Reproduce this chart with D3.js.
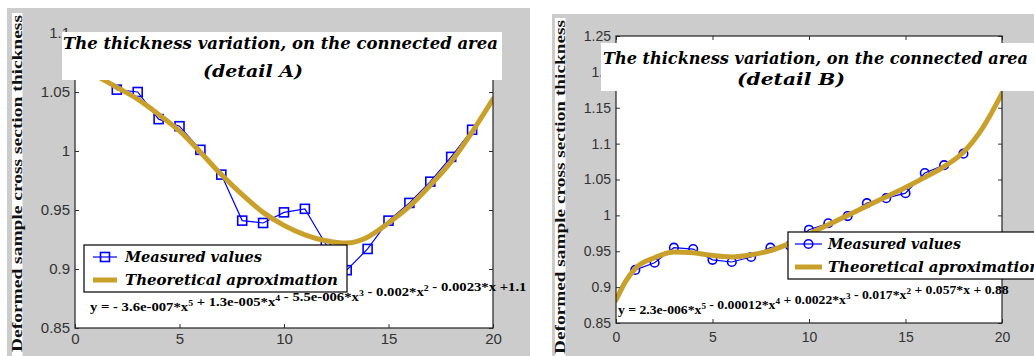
<!DOCTYPE html>
<html><head><meta charset="utf-8">
<script src="https://cdn.jsdelivr.net/npm/d3@7"></script>
<style>body{margin:0;background:#fff}svg{display:block}</style>
</head><body>
<svg id="c" width="1034" height="356"></svg>
<script>
// ---------- data ----------
const xTicks = [0, 5, 10, 15, 20];
const xTickLabels = ["0", "5", "10", "15", "20"];
const yTicksA = [0.85, 0.9, 0.95, 1, 1.05, 1.1];
const yTickLabelsA = ["0.85", "0.9", "0.95", "1", "1.05", "1.1"];
const yTicksB = [0.85, 0.9, 0.95, 1, 1.05, 1.1, 1.15, 1.2, 1.25];
const yTickLabelsB = ["0.85", "0.9", "0.95", "1", "1.05", "1.1", "1.15", "1.2", "1.25"];

const measuredXA = [1, 2, 3, 4, 5, 6, 7, 8, 9, 10, 11, 12, 13, 14, 15, 16, 17, 18, 19];
const measuredYA = [1.068, 1.052, 1.050, 1.027, 1.021, 1.001, 0.980, 0.941, 0.939, 0.948, 0.951, 0.921, 0.899, 0.917, 0.941, 0.956, 0.974, 0.995, 1.018];
const fitXA = [1, 2, 3, 4, 5, 6, 7, 8, 9, 10, 11, 12, 13, 14, 15, 16, 17, 18, 19, 20];
const fitYA = [1.064, 1.054, 1.044, 1.031, 1.017, 0.999, 0.980, 0.963, 0.948, 0.937, 0.929, 0.924, 0.922, 0.927, 0.939, 0.953, 0.971, 0.991, 1.016, 1.044];

const measuredXB = [1, 2, 3, 4, 5, 6, 7, 8, 9, 10, 11, 12, 13, 14, 15, 16, 17, 18];
const measuredYB = [0.924, 0.934, 0.955, 0.953, 0.938, 0.935, 0.942, 0.955, 0.958, 0.980, 0.989, 0.999, 1.017, 1.024, 1.031, 1.059, 1.070, 1.086];
const fitXB = [0, 0.5, 1, 2, 3, 4, 5, 6, 7, 8, 9, 10, 11, 12, 13, 14, 15, 16, 17, 18, 19, 20];
const fitYB = [0.882, 0.908, 0.926, 0.941, 0.949, 0.948, 0.944, 0.942, 0.945, 0.951, 0.961, 0.974, 0.987, 1.000, 1.013, 1.026, 1.039, 1.053, 1.068, 1.088, 1.122, 1.170];

const titleLine1 = "The thickness variation, on the connected area";
const titleLine2A = "(detail  A)";
const titleLine2B = "(detail  B)";
const yLabel = "Deformed sample cross section thickness";
const legendLabels = ["Measured values", "Theoretical aproximation"];
const equationA = [["y = - 3.6e-007*x", "5"], [" + 1.3e-005*x", "4"], [" - 5.5e-006*x", "3"], [" - 0.002*x", "2"], [" - 0.0023*x +1.1", null]];
const equationB = [["y = 2.3e-006*x", "5"], [" - 0.00012*x", "4"], [" + 0.0022*x", "3"], [" - 0.017*x", "2"], [" + 0.057*x + 0.88", null]];

// ---------- drawing ----------
const svg = d3.select("#c");
const GOLD = "#c9a02a", BLUE = "#0000ff", GRAY = "#cccccc";
const serif = "'DejaVu Serif', 'Liberation Serif', serif";
const tserif = "'Liberation Serif', 'DejaVu Serif', serif";

function fitWidth(sel, w) {
  const n = sel.node(); const bb = n.getBBox();
  const sx = w / bb.width;
  sel.attr("transform", `translate(${bb.x},0) scale(${sx},1) translate(${-bb.x},0)`);
}

function panel(cfg) {
  const g = svg.append("g");
  g.append("rect").attr("x", cfg.bg[0]).attr("y", cfg.bg[1]).attr("width", cfg.bg[2]).attr("height", cfg.bg[3]).attr("fill", GRAY);
  // y label strip
  g.append("rect").attr("x", cfg.yl.x - 5).attr("y", cfg.yl.top).attr("width", 10.5).attr("height", 356 - cfg.yl.top).attr("fill", "#fff");
  g.append("text").attr("transform", `translate(${cfg.yl.x + 4.5},${cfg.yl.bottom}) rotate(-90)`)
    .attr("font-family", tserif).attr("font-size", 14).attr("font-weight", "bold")
    .attr("textLength", cfg.yl.bottom - cfg.yl.top - 2).attr("lengthAdjust", "spacingAndGlyphs")
    .attr("fill", "#111").text(yLabel);

  const x = d3.scaleLinear().domain([0, 20]).range(cfg.xr);
  const y = d3.scaleLinear().domain(cfg.yd).range(cfg.yr);
  const [x0, x1] = cfg.xr, [y0, y1] = cfg.yr;
  g.append("rect").attr("x", x0).attr("y", y1).attr("width", x1 - x0).attr("height", y0 - y1).attr("fill", "#fff");

  const clip = "clip" + cfg.id;
  g.append("clipPath").attr("id", clip).append("rect").attr("x", x0).attr("y", y1).attr("width", x1 - x0).attr("height", y0 - y1);
  const pg = g.append("g").attr("clip-path", `url(#${clip})`);

  const meas = cfg.mx.map((d, i) => [d, cfg.my[i]]);
  const fit = cfg.fx.map((d, i) => [d, cfg.fy[i]]);
  pg.append("path").datum(meas).attr("fill", "none").attr("stroke", BLUE).attr("stroke-width", 1.2)
    .attr("d", d3.line().x(d => x(d[0])).y(d => y(d[1])));
  if (cfg.marker === "square") {
    pg.selectAll(".m").data(meas).join("rect").attr("x", d => x(d[0]) - 4.5).attr("y", d => y(d[1]) - 4.5)
      .attr("width", 9).attr("height", 9).attr("fill", "none").attr("stroke", BLUE).attr("stroke-width", 1.6);
  } else {
    pg.selectAll(".m").data(meas).join("circle").attr("cx", d => x(d[0])).attr("cy", d => y(d[1])).attr("r", 4.3)
      .attr("fill", "none").attr("stroke", BLUE).attr("stroke-width", 1.6);
  }
  pg.append("path").datum(fit).attr("fill", "none").attr("stroke", GOLD).attr("stroke-width", 5).attr("stroke-linecap", "round")
    .attr("d", d3.line().curve(d3.curveMonotoneX).x(d => x(d[0])).y(d => y(d[1])));

  // axes
  const axL = g.append("g").attr("transform", `translate(${x0},0)`)
    .call(d3.axisLeft(y).tickValues(cfg.yt).tickFormat((d, i) => cfg.ytl[i]).tickSizeInner(-4).tickSizeOuter(0).tickPadding(5));
  const axB = g.append("g").attr("transform", `translate(0,${y0})`)
    .call(d3.axisBottom(x).tickValues(xTicks).tickFormat((d, i) => xTickLabels[i]).tickSizeInner(-4).tickSizeOuter(0).tickPadding(cfg.xpad));
  const axR = g.append("g").attr("transform", `translate(${x1},0)`)
    .call(d3.axisRight(y).tickValues(cfg.yt).tickFormat("").tickSizeInner(-4).tickSizeOuter(0));
  const axT = g.append("g").attr("transform", `translate(0,${y1})`)
    .call(d3.axisTop(x).tickValues(xTicks).tickFormat("").tickSizeInner(-4).tickSizeOuter(0));
  [axL, axB, axR, axT].forEach(a => {
    a.select(".domain").remove();
    a.selectAll("line").attr("stroke", "#333");
    a.selectAll("text").attr("font-family", "'Liberation Sans', Arial, sans-serif").attr("font-size", cfg.fs).attr("fill", "#333");
  });
  g.append("rect").attr("x", x0).attr("y", y1).attr("width", x1 - x0).attr("height", y0 - y1)
    .attr("fill", "none").attr("stroke", "#222").attr("stroke-width", 1.2);

  // title
  const t = cfg.title;
  g.append("rect").attr("x", t.box[0]).attr("y", t.box[1]).attr("width", t.box[2]).attr("height", t.box[3]).attr("fill", "#fff");
  g.append("text").attr("x", t.l1[0]).attr("y", t.l1[1]).attr("font-family", serif).attr("font-weight", "bold").attr("font-style", "italic")
    .attr("font-size", 16).attr("textLength", t.l1[2]).attr("lengthAdjust", "spacingAndGlyphs").attr("fill", "#000").text(titleLine1);
  g.append("text").attr("x", t.l2[0]).attr("y", t.l2[1]).attr("font-family", serif).attr("font-weight", "bold").attr("font-style", "italic")
    .attr("font-size", 16).attr("textLength", t.l2[2]).attr("lengthAdjust", "spacingAndGlyphs").attr("fill", "#000").text(cfg.line2);

  // legend
  const L = cfg.leg;
  g.append("rect").attr("x", L.box[0]).attr("y", L.box[1]).attr("width", L.box[2]).attr("height", L.box[3])
    .attr("fill", "#fff").attr("stroke", "#000").attr("stroke-width", 1.2);
  const ly1 = L.rows[0], ly2 = L.rows[1];
  g.append("line").attr("x1", L.lx[0]).attr("x2", L.lx[1]).attr("y1", ly1).attr("y2", ly1).attr("stroke", BLUE).attr("stroke-width", 1.2);
  const mx = (L.lx[0] + L.lx[1]) / 2;
  if (cfg.marker === "square") {
    g.append("rect").attr("x", mx - 4.5).attr("y", ly1 - 4.5).attr("width", 9).attr("height", 9).attr("fill", "none").attr("stroke", BLUE).attr("stroke-width", 1.6);
  } else {
    g.append("circle").attr("cx", mx).attr("cy", ly1).attr("r", 4.3).attr("fill", "none").attr("stroke", BLUE).attr("stroke-width", 1.6);
  }
  g.append("line").attr("x1", L.lx[0]).attr("x2", L.lx[1]).attr("y1", ly2).attr("y2", ly2).attr("stroke", GOLD).attr("stroke-width", 5);
  legendLabels.forEach((s, i) => {
    g.append("text").attr("x", L.tx).attr("y", L.rows[i] + 5).attr("font-family", serif).attr("font-weight", "bold").attr("font-style", "italic")
      .attr("font-size", 15).attr("textLength", L.tw[i]).attr("lengthAdjust", "spacingAndGlyphs").attr("fill", "#000").text(s);
  });

  // equation
  const E = cfg.eq;
  const et = g.append("text").attr("x", E.x).attr("y", E.y).attr("font-family", tserif).attr("font-weight", "bold")
    .attr("font-size", 12).attr("fill", "#000");
  cfg.equation.forEach(([s, sup]) => {
    et.append("tspan").text(s);
    if (sup) {
      et.append("tspan").attr("dy", -5).attr("font-size", 8).text(sup);
      et.append("tspan").attr("dy", 5).text("");
    }
  });
  fitWidth(et, E.w);
}

panel({
  id: "A", bg: [7, 8, 523, 348], yl: { x: 17, top: 13, bottom: 352 },
  xr: [75, 493], yd: [0.85, 1.1], yr: [328, 33], yt: yTicksA, ytl: yTickLabelsA, fs: 15, xpad: 5,
  mx: measuredXA, my: measuredYA, fx: fitXA, fy: fitYA, marker: "square",
  title: { box: [62, 32, 440, 48], l1: [63, 49, 435], l2: [203, 77, 100] }, line2: titleLine2A,
  leg: { box: [84, 245, 263, 47], rows: [257, 280], lx: [93, 117], tx: 125, tw: [137, 213] },
  eq: { x: 90, y: 311, w: 437 }, equation: equationA
});
panel({
  id: "B", bg: [552, 14, 482, 342], yl: { x: 560, top: 18, bottom: 354 },
  xr: [616, 1002], yd: [0.85, 1.25], yr: [323, 36], yt: yTicksB, ytl: yTickLabelsB, fs: 14, xpad: 9,
  mx: measuredXB, my: measuredYB, fx: fitXB, fy: fitYB, marker: "circle",
  title: { box: [601, 43, 433, 48], l1: [603, 64, 425], l2: [737, 85, 108] }, line2: titleLine2B,
  leg: { box: [788, 232, 260, 47], rows: [244, 267], lx: [795, 822], tx: 828, tw: [133, 212] },
  eq: { x: 618, y: 314, w: 391 }, equation: equationB
});
</script>
</body></html>
